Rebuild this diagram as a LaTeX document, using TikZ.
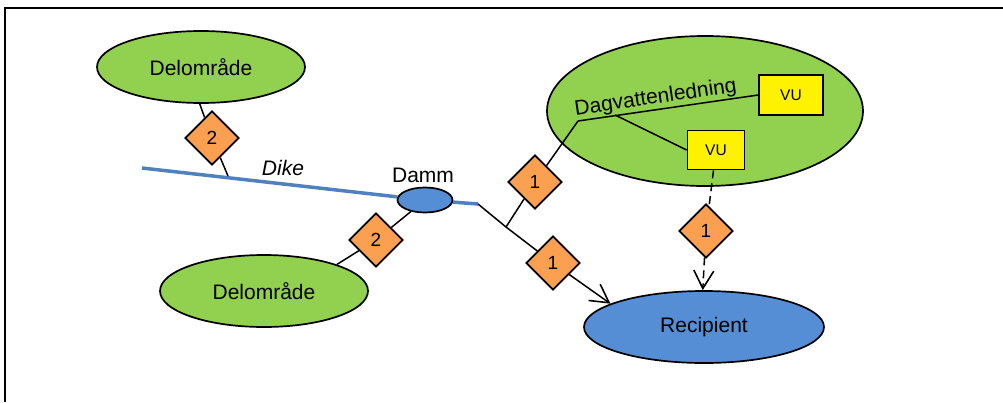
\documentclass[tikz,border=0pt]{standalone}
\usepackage{fontspec}
\setmainfont{Liberation Sans}
\usetikzlibrary{shapes.geometric,arrows.meta}
\definecolor{grass}{RGB}{146,208,80}
\definecolor{pond}{RGB}{85,142,213}
\definecolor{ditch}{RGB}{79,129,189}
\definecolor{peach}{RGB}{250,160,80}
\begin{document}
\begin{tikzpicture}[x=1pt,y=-1pt,line width=1.5pt,
area/.style={ellipse,draw,fill=grass,line width=1.7pt,inner sep=0pt,font=\fontsize{21}{25}\selectfont},
water/.style={area,fill=pond},
klass/.style={diamond,draw,fill=peach,line width=1.7pt,inner sep=0pt,minimum width=54pt,minimum height=54pt,font=\fontsize{19}{22}\selectfont},
vubox/.style={rectangle,draw,fill=yellow,line width=1.7pt,inner sep=0pt,font=\fontsize{15.5}{18}\selectfont},
lbl/.style={inner sep=0pt,font=\fontsize{21}{25}\selectfont},
tip/.style={-{Straight Barb[length=18pt,width=20pt,line width=1.6pt]}}]
\useasboundingbox (0,0) rectangle (1003,402);
\draw[line width=2pt] (5,402)--(5,8)--(1003,8);
%\draw[teal,step=50] (0,0) grid (1003,402);
\node[area,minimum width=208pt,minimum height=72pt] (del1) at (201,67) {Delområde};
\node[area,minimum width=208pt,minimum height=72pt] (del2) at (264,291) {Delområde};
\node[area,minimum width=316pt,minimum height=150pt] (dag) at (705,111) {};
\node[water,minimum width=240pt,minimum height=72pt] (rec) at (704,327) {Recipient};
\node[water,minimum width=55pt,minimum height=25pt] (damm) at (425,200) {};
\node[lbl] (dammtxt) at (423,175) {Damm};
\node[lbl,font=\fontsize{21}{25}\selectfont\itshape] (diketxt) at (283,168) {Dike};
\node[vubox,minimum width=64pt,minimum height=40pt] (vu1) at (791,95) {VU};
\node[vubox,minimum width=57pt,minimum height=39pt] (vu2) at (716,150) {VU};
\coordinate (dk1) at (142,168); \coordinate (dk2) at (478,204);
\coordinate (dj) at (228,176); \coordinate (jn) at (506,227);
\coordinate (dj2) at (578,121); \coordinate (bp) at (615,115);
\node[klass] (k2a) at (212,138) {2};
\node[klass] (k2b) at (376,240) {2};
\node[klass] (k1a) at (535,182) {1};
\node[klass] (k1b) at (553,263) {1};
\node[klass] (k1c) at (706,231) {1};
\draw[ditch,line width=3.5pt] (dk1)--(damm)--(dk2);
\draw (dj)--(k2a)--(del1.-92);
\draw (damm)--(k2b)--(del2.20);
\draw (dk2)--(jn)--(k1b);
\draw[tip] (k1b)--(rec.166);
\draw (jn)--(k1a)--(dj2);
\draw (dj2)--node[sloped,above=1pt,pos=.44,inner sep=0pt,font=\fontsize{21}{25}\selectfont]{Dagvattenledning}(vu1.west);
\draw (bp)--(vu2.west);
\draw[dash pattern=on 8pt off 5pt] (vu2)--(k1c);
\draw[dash pattern=on 8pt off 5pt,tip] (k1c)--(rec.92);
\end{tikzpicture}
\end{document}
